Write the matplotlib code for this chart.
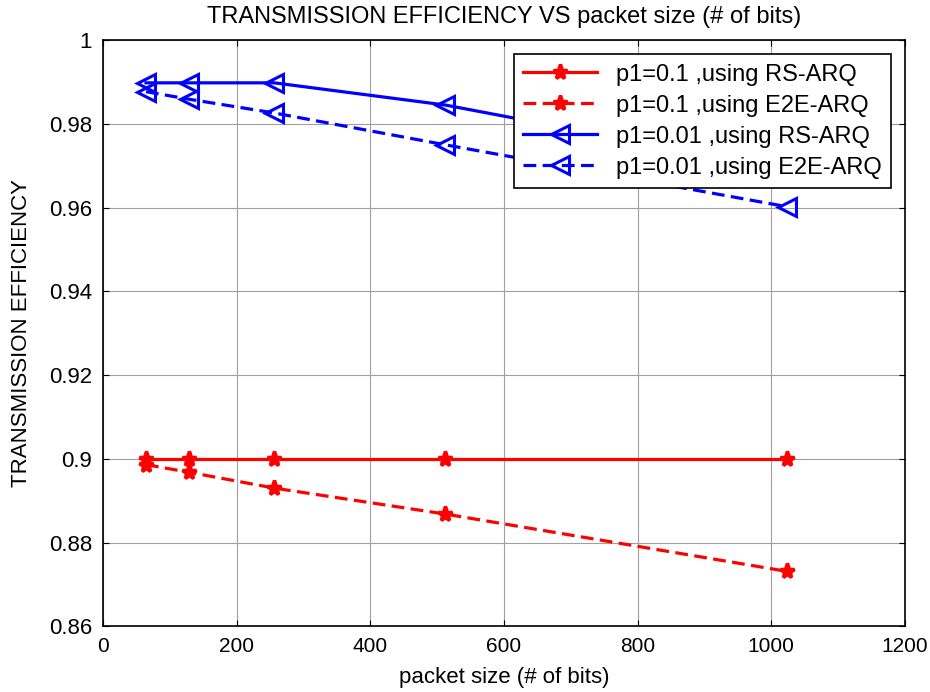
import numpy as np
import matplotlib.pyplot as plt

plt.rcParams['font.family'] = ['Liberation Sans', 'DejaVu Sans']

packet_size = [64, 128, 256, 512, 1024]
rs_p01 = [0.9, 0.9, 0.9, 0.9, 0.9]
e2e_p01 = [0.8986, 0.8968, 0.8930, 0.8868, 0.8731]
rs_p001 = [0.9898, 0.9898, 0.9898, 0.9845, 0.9690]
e2e_p001 = [0.9877, 0.9859, 0.9826, 0.9750, 0.9602]

fig = plt.figure(figsize=(9.3, 6.92), dpi=100)
ax = fig.add_axes([0.111, 0.095, 0.862, 0.847])

dash = (4, 2)
ax.plot(packet_size, rs_p01, '-', color='red', lw=2.3, marker='*', ms=11, mew=2.5,
        label='p1=0.1 ,using RS-ARQ')
ax.plot(packet_size, e2e_p01, '--', color='red', lw=2.3, dashes=dash, marker='*', ms=11, mew=2.5,
        label='p1=0.1 ,using E2E-ARQ')
ax.plot(packet_size, rs_p001, '-', color='blue', lw=2.3, marker='<', ms=13, mew=2.2,
        mfc='none', label='p1=0.01 ,using RS-ARQ')
ax.plot(packet_size, e2e_p001, '--', color='blue', lw=2.3, dashes=dash, marker='<', ms=13, mew=2.2,
        mfc='none', label='p1=0.01 ,using E2E-ARQ')

ax.set_xlim(0, 1200)
ax.set_ylim(0.86, 1.0)
ax.set_xticks(np.arange(0, 1201, 200))
ax.set_yticks(np.arange(0.86, 1.001, 0.02))
ax.set_yticklabels(['0.86', '0.88', '0.9', '0.92', '0.94', '0.96', '0.98', '1'])
ax.grid(True, color='#a0a0a0', lw=0.8)
ax.tick_params(direction='in', top=True, right=True, length=4, pad=8)
ax.tick_params(axis='x', labelsize=15)
ax.tick_params(axis='y', labelsize=16)
for s in ax.spines.values():
    s.set_linewidth(1.2)

ax.set_title('TRANSMISSION EFFICIENCY VS packet size (# of bits)', fontsize=17, pad=12)
ax.set_xlabel('packet size (# of bits)', fontsize=16, labelpad=8)
ax.set_ylabel('TRANSMISSION EFFICIENCY', fontsize=16, labelpad=12)

leg = ax.legend(loc='upper right', fontsize=17, handlelength=3.1, fancybox=False,
                framealpha=1, edgecolor='black', borderaxespad=0.6, labelspacing=0.38)
leg.get_frame().set_linewidth(1.2)

fig.savefig('out.png', dpi=100)
